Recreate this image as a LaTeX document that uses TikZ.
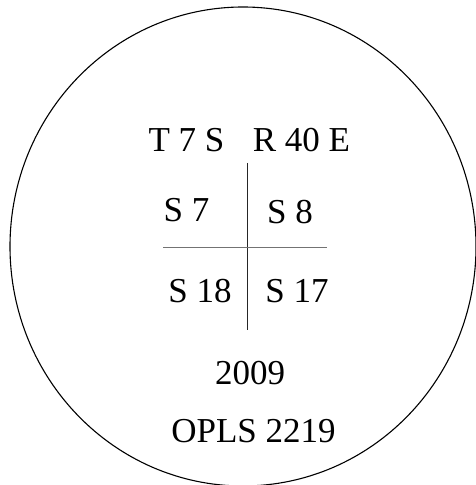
\documentclass[tikz,border=0pt]{standalone}
\usepackage{fontspec}
\setmainfont{Liberation Serif}
\begin{document}
\begin{tikzpicture}[x=1pt,y=1pt,
  lbl/.style={anchor=base,inner sep=0pt,font=\fontsize{35}{40}\selectfont},
  rule/.style={line width=0.9pt,black!75}]
\useasboundingbox (0,0) rectangle (476,485);
\begin{scope}
\clip (0,0) rectangle (476,485);
\draw[line width=1.1pt] (243,238.5) ellipse [x radius=233, y radius=239.5];
\end{scope}
\node[lbl] (t7s) at (186.5,333) {T 7 S};
\node[lbl] (r40e) at (301.5,333) {R 40 E};
\node[lbl] (s7) at (186.5,263) {S 7};
\node[lbl] (s8) at (290,261) {S 8};
\node[lbl] (s18) at (200,182) {S 18};
\node[lbl] (s17) at (297,182) {S 17};
\node[lbl] (yr) at (250,100) {2009};
\node[lbl] (opls) at (253.5,42) {OPLS 2219};
\coordinate (vtop) at (247,322);
\coordinate (vbot) at (247,155);
\coordinate (hl) at (163,237.5);
\coordinate (hr) at (327,237.5);
\draw[rule,black!85] (vtop) -- (vbot);
\draw[rule,black!55] (hl) -- (hr);
\end{tikzpicture}
\end{document}
